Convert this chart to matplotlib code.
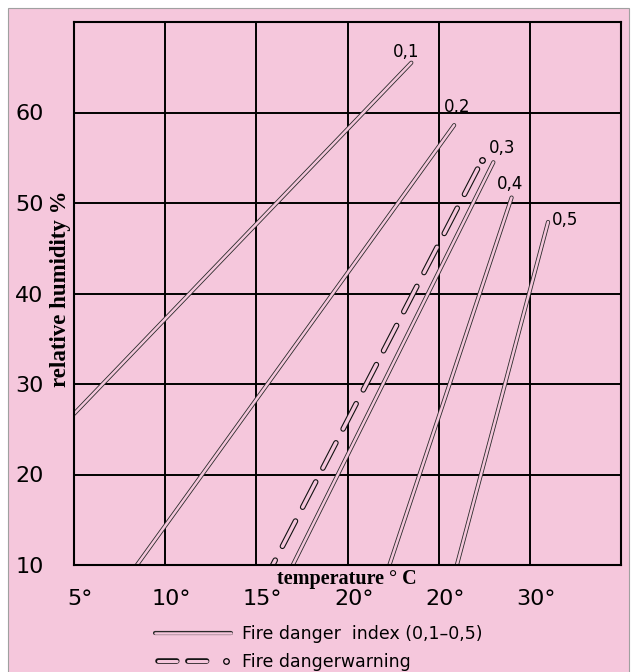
import matplotlib
matplotlib.use("Agg")
import matplotlib.pyplot as plt
from matplotlib import patheffects
from matplotlib.lines import Line2D
from matplotlib.patches import Rectangle
from matplotlib.legend_handler import HandlerBase
import matplotlib.transforms as mtransforms

plt.rcParams['lines.scale_dashes'] = False
plt.rcParams['font.family'] = ['DejaVu Sans']

# ---------------- data ----------------
index_labels = ["0,1", "0,2", "0,3", "0,4", "0,5"]
index_temp_start = [5.0, 8.45, 17.0, 22.3, 26.0]
index_hum_start = [26.7, 10.0, 10.0, 10.0, 10.0]
index_temp_end = [23.5, 25.85, 28.0, 29.0, 31.0]
index_hum_end = [65.5, 58.6, 54.5, 50.6, 47.9]

warning_temp = [15.9, 27.4]
warning_hum = [10.0, 54.8]

x_ticks = [5, 10, 15, 20, 25, 30]
x_tick_labels = ["5°", "10°", "15°", "20°", "20°", "30°"]
y_ticks = [10, 20, 30, 40, 50, 60, 70]
y_tick_labels = ["10", "20", "30", "40", "50", "60", ""]

legend_labels = ["Fire danger  index (0,1–0,5)", "Fire dangerwarning"]

# label offsets (points) from line end
label_offsets = [(-4, 8), (2, 13), (6.5, 10), (-1, 9.5), (12, 1.5)]

PINK = "#F5C7DC"

fig = plt.figure(figsize=(6.38, 6.72), dpi=100, facecolor="white")
bg = Rectangle((8 / 638, -0.01), 621 / 638, 1.01 - 8 / 672, transform=fig.transFigure,
               facecolor=PINK, edgecolor="#a0a0a0", lw=0.8, zorder=-10)
fig.patches.append(bg)

ax = fig.add_axes([74 / 638, 1 - 565 / 672, 547 / 638, 543 / 672])
ax.set_facecolor(PINK)
ax.set_xlim(5, 35)
ax.set_ylim(10, 70)
ax.set_axisbelow(True)

ax.set_xticks(x_ticks)
ax.set_xticklabels(x_tick_labels, fontsize=16)
ax.set_yticks(y_ticks)
ax.set_yticklabels(y_tick_labels, fontsize=16)
ax.tick_params(axis="both", which="both", length=0)
ax.tick_params(axis="x", pad=17.5)
ax.tick_params(axis="y", pad=22)
offset = mtransforms.ScaledTranslation(4.5 / 72, 0, fig.dpi_scale_trans)
for lab in ax.get_xticklabels():
    lab.set_transform(lab.get_transform() + offset)

ax.grid(True, color="black", lw=1.4)
for s in ax.spines.values():
    s.set_linewidth(1.5)
    s.set_color("black")

pe_line = [patheffects.Stroke(linewidth=3.0, foreground="#2a2a2a"), patheffects.Normal()]
pe_warn = [patheffects.Stroke(linewidth=4.0, foreground="#111111"), patheffects.Normal()]

for lab, ts, hs, te, he, off in zip(index_labels, index_temp_start, index_hum_start,
                                     index_temp_end, index_hum_end, label_offsets):
    ax.plot([ts, te], [hs, he], color=PINK, lw=1.8, solid_capstyle="round",
            path_effects=pe_line, zorder=2.2)
    ax.annotate(lab, (te, he), xytext=off, textcoords="offset points",
                ha="center", va="center", fontsize=12, zorder=4)

# warning dashed line (drawn from top downward)
ax.plot(warning_temp[::-1], warning_hum[::-1], color=PINK, lw=2.4,
        linestyle=(24.0, (20.5, 11.2)), dash_capstyle="round",
        path_effects=pe_warn, zorder=2.3)
ax.plot([warning_temp[-1]], [warning_hum[-1]], linestyle="none", marker="o", ms=4,
        mfc=PINK, mec="black", mew=0.9, zorder=2.4)

ax.set_xlabel("temperature ° C", fontfamily="Liberation Serif", fontweight="bold",
              fontsize=14.5)
ax.xaxis.set_label_coords(0.499, -0.008)
ax.set_ylabel("relative humidity %", fontfamily="Liberation Serif", fontweight="bold",
              fontsize=16.5)
ax.yaxis.set_label_coords(-0.006, 0.508)


class WarningHandler(HandlerBase):
    def create_artists(self, legend, orig_handle, xdescent, ydescent, width, height,
                       fontsize, trans):
        y = height / 2 - ydescent
        x0 = -xdescent
        l = Line2D([x0 + 2, x0 + width * 0.80], [y, y], color=PINK, lw=2.2,
                   linestyle=(0, (13.5, 8.0)), dash_capstyle="round",
                   path_effects=pe_warn, transform=trans)
        m = Line2D([x0 + width * 0.93], [y], linestyle="none", marker="o", ms=4,
                   mfc=PINK, mec="black", mew=0.9, transform=trans)
        return [l, m]


h1 = Line2D([], [], color=PINK, lw=1.8, solid_capstyle="round", path_effects=pe_line)
h2 = Line2D([], [], color=PINK)
fig.legend(handles=[h1, h2], labels=legend_labels, handler_map={h2: WarningHandler()},
           loc="center left", bbox_to_anchor=(155 / 638, 1 - 648 / 672),
           frameon=False, borderpad=0, borderaxespad=0, handlelength=4.4,
           handletextpad=0.6, labelspacing=0.6, fontsize=12.5)

fig.savefig("out.png", dpi=100, facecolor="white")
